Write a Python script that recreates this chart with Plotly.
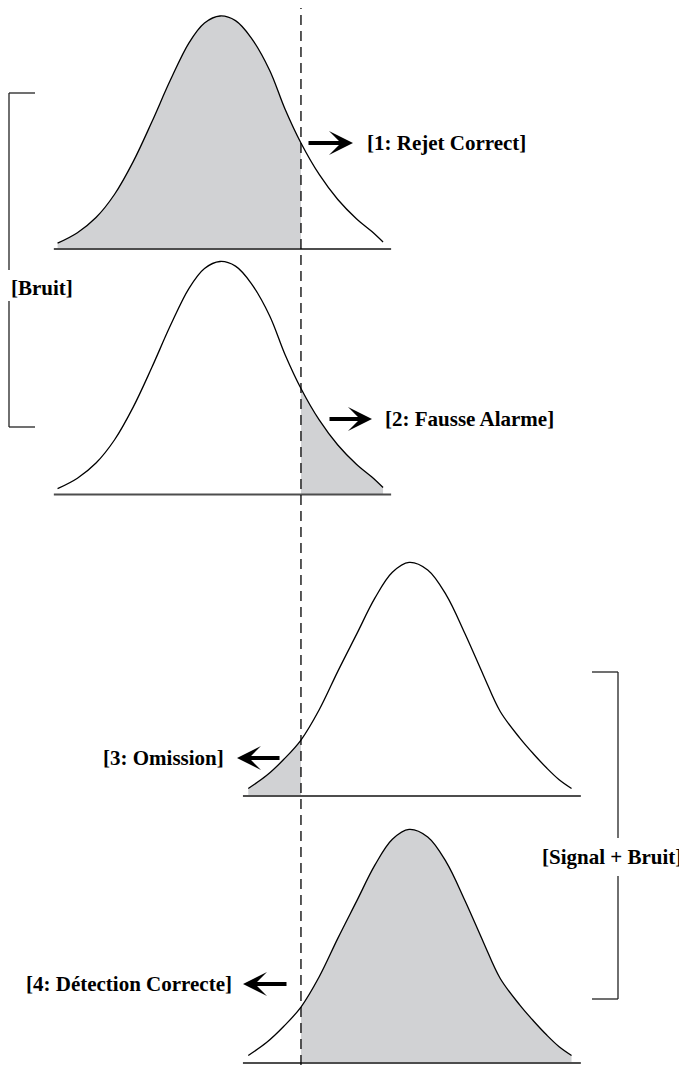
import plotly.graph_objects as go

# Signal detection diagram: noise vs signal+noise distributions and a criterion
PAGE_W, PAGE_H = 687, 1065
OFF = 8                                   # browser body margin around the plot div
W, H = PAGE_W - OFF, PAGE_H - OFF

# curve samples (x in stimulus units, y in density)
noise_x = [-2.62, -2.3, -2.0, -1.7, -1.4, -1.1, -0.8, -0.5, -0.25, 0.0,
           0.25, 0.5, 0.8, 1.05, 1.306, 1.6, 1.9, 2.2, 2.45, 2.63]
noise_y = [0.010, 0.028, 0.054, 0.094, 0.150, 0.218, 0.290, 0.354, 0.388, 0.400,
           0.392, 0.363, 0.307, 0.240, 0.182, 0.128, 0.085, 0.052, 0.030, 0.012]

signal_x = [0.456, 0.75, 1.03, 1.306, 1.6, 1.9, 2.2, 2.5, 2.78, 3.05,
            3.35, 3.65, 3.95, 4.25, 4.52, 4.84, 5.05, 5.27, 5.47, 5.67]
signal_y = [0.013, 0.035, 0.063, 0.096, 0.148, 0.214, 0.277, 0.340, 0.384, 0.401,
            0.388, 0.345, 0.279, 0.207, 0.145, 0.099, 0.073, 0.048, 0.028, 0.013]

criterion = 1.306
noise_base = [-2.68, 2.76]
signal_base = [0.37, 5.82]

outcome_labels = ["[1: Rejet Correct]", "[2: Fausse Alarme]", "[3: Omission]", "[4: Détection Correcte]"]
group_labels = ["[Bruit]", "[Signal + Bruit]"]

GREY = "#d1d2d4"
FONT = dict(family="Liberation Serif, Times New Roman, serif", size=21, color="black", weight="bold")

# pixel geometry of the page
X0_PX, X_SCALE = 220, 62          # page px of x=0, px per x unit
Y_SCALE = 582.5                   # px per density unit
BASE_PX = [249, 494.5, 796, 1063] # baseline of each panel (page px)


def px(x):
    return (x - OFF) / W


def py(y):
    return 1 - (y - OFF) / H


panels = [
    (noise_x, noise_y, noise_base, "left"),
    (noise_x, noise_y, noise_base, "right"),
    (signal_x, signal_y, signal_base, "left"),
    (signal_x, signal_y, signal_base, "right"),
]

fig = go.Figure()
layout_axes = {}
for i, (cx, cy, base, side) in enumerate(panels):
    yname = "y" if i == 0 else f"y{i + 1}"
    if side == "left":
        fx = [x for x in cx if x <= criterion]
    else:
        fx = [x for x in cx if x >= criterion]
    fy = [cy[cx.index(x)] for x in fx]

    fig.add_trace(go.Scatter(
        x=fx, y=fy, mode="lines", xaxis="x", yaxis=yname,
        line=dict(width=0, shape="spline"), fill="tozeroy", fillcolor=GREY,
        hoverinfo="skip", showlegend=False,
    ))
    fig.add_trace(go.Scatter(
        x=cx, y=cy, mode="lines", xaxis="x", yaxis=yname,
        line=dict(color="black", width=1.3, shape="spline"),
        hoverinfo="skip", showlegend=False,
    ))
    fig.add_trace(go.Scatter(
        x=base, y=[0, 0], mode="lines", xaxis="x", yaxis=yname,
        line=dict(color="#4d4d4d", width=2.2),
        hoverinfo="skip", showlegend=False,
    ))

    b = BASE_PX[i]
    key = "yaxis" if i == 0 else f"yaxis{i + 1}"
    lo = min(2, PAGE_H - b)
    layout_axes[key] = dict(
        domain=[max(0, py(b + lo)), py(b - 240)],
        range=[-lo / Y_SCALE, 240 / Y_SCALE],
        visible=False, anchor="x", fixedrange=True,
    )

shapes = [
    # criterion
    dict(type="line", xref="x", yref="paper", x0=criterion, x1=criterion, y0=0, y1=py(4),
         line=dict(color="black", width=1.3, dash="10px,6px")),
]


def seg(x0, y0, x1, y1):
    return dict(type="line", xref="paper", yref="paper",
                x0=px(x0), y0=py(y0), x1=px(x1), y1=py(y1),
                line=dict(color="#222222", width=1.3))


# left bracket (Bruit), kept just inside the page margin
shapes += [seg(9, 93, 35, 93), seg(9, 93, 9, 270), seg(9, 301, 9, 427), seg(9, 427, 35, 427)]
# right bracket (Signal + Bruit)
shapes += [seg(592, 672, 618, 672), seg(618, 672, 618, 838), seg(618, 876, 618, 999), seg(592, 999, 618, 999)]

annotations = [
    dict(text=group_labels[0], x=px(9), y=py(288), xanchor="left", yanchor="middle"),
    dict(text=group_labels[1], x=px(612), y=py(857), xanchor="center", yanchor="middle"),
    dict(text=outcome_labels[0], x=px(365), y=py(143), xanchor="left", yanchor="middle"),
    dict(text=outcome_labels[1], x=px(383), y=py(419), xanchor="left", yanchor="middle"),
    dict(text=outcome_labels[2], x=px(226), y=py(758), xanchor="right", yanchor="middle"),
    dict(text=outcome_labels[3], x=px(234), y=py(984), xanchor="right", yanchor="middle"),
]
for a in annotations:
    a.update(xref="paper", yref="paper", showarrow=False, font=FONT)

# arrows: (tip_x, tip_y, tail offset in px)
arrows = [(353, 143, -46), (372, 419, -44), (237, 758, 44), (243, 984, 45)]
for tx, ty, off in arrows:
    annotations.append(dict(
        x=px(tx), y=py(ty), xref="paper", yref="paper", ax=off, ay=0,
        axref="pixel", ayref="pixel", text="", showarrow=True,
        arrowhead=3, arrowsize=1.0, arrowwidth=4, arrowcolor="black",
    ))

fig.update_layout(
    width=W, height=H,
    margin=dict(l=0, r=0, t=0, b=0),
    paper_bgcolor="white", plot_bgcolor="rgba(0,0,0,0)",
    xaxis=dict(range=[(OFF - X0_PX) / X_SCALE, (OFF + W - X0_PX) / X_SCALE], domain=[0, 1],
               visible=False, fixedrange=True, anchor="y"),
    shapes=shapes, annotations=annotations,
    showlegend=False,
    **layout_axes,
)

fig.write_html("out.html")
